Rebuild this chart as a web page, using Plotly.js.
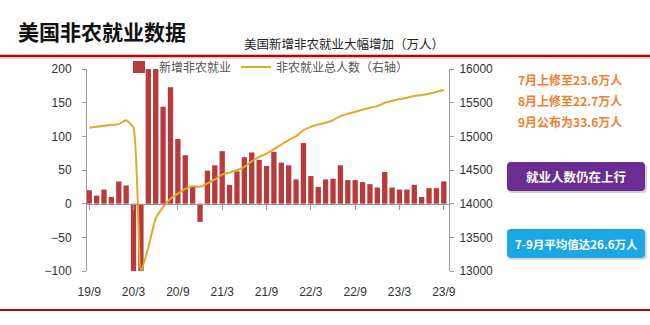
<!DOCTYPE html>
<html><head><meta charset="utf-8">
<script src="https://cdn.plot.ly/plotly-3.0.1.min.js"></script>
<style>html,body{margin:0;padding:0;background:#fff}#chart{width:650px;height:325px}</style>
</head><body><div id="chart"></div>
<script>
const months = ['19/9','19/10','19/11','19/12','20/1','20/2','20/3','20/4','20/5','20/6','20/7','20/8','20/9','20/10','20/11','20/12',
  '21/1','21/2','21/3','21/4','21/5','21/6','21/7','21/8','21/9','21/10','21/11','21/12',
  '22/1','22/2','22/3','22/4','22/5','22/6','22/7','22/8','22/9','22/10','22/11','22/12',
  '23/1','23/2','23/3','23/4','23/5','23/6','23/7','23/8','23/9'];
const newJobs = [20,12,21,10,33,27,-137,-2050,270,480,144,173,96,72,26,-27,
  49,57,78,28,48,69,76,65,56,77,61,57,
  36,90,41,25,36,37,57,35,35,32,29,24,
  47,24,21,21,28,10,23,23,33];
const totalJobs = [15127,15141,15156,15171,15181,15240,15125,13000,13350,13780,13950,14074,14150,14220,14260,14250,
  14300,14360,14430,14462,14496,14546,14630,14695,14744,14809,14878,14943,
  15002,15092,15141,15176,15201,15240,15300,15335,15365,15395,15424,15449,
  15499,15529,15553,15573,15598,15613,15633,15658,15692];
const tickLabels = ['19/9','20/3','20/9','21/3','21/9','22/3','22/9','23/3','23/9'];
const leftTicks = [-100,-50,0,50,100,150,200];
const rightTicks = [13000,13500,14000,14500,15000,15500,16000];
const barName = '新增非农就业';
const lineName = '非农就业总人数（右轴）';
const mainTitle = '美国非农就业数据';
const subTitle = '美国新增非农就业大幅增加（万人）';
const notes = ['7月上修至23.6万人','8月上修至22.7万人','9月公布为33.6万人'];
const box1Text = '就业人数仍在上行';
const box2Text = '7-9月平均值达26.6万人';

const L=87,R=449,T=69,B=271;
const px = x => (x-L)/(R-L);
const py = y => (B-y)/(B-T);
function rrect(x0,y0,x1,y1,r){
  const P=(x,y)=>px(x).toFixed(5)+','+py(y).toFixed(5);
  return 'M'+P(x0+r,y0)+' L'+P(x1-r,y0)+' Q'+P(x1,y0)+' '+P(x1,y0+r)+
    ' L'+P(x1,y1-r)+' Q'+P(x1,y1)+' '+P(x1-r,y1)+
    ' L'+P(x0+r,y1)+' Q'+P(x0,y1)+' '+P(x0,y1-r)+
    ' L'+P(x0,y0+r)+' Q'+P(x0,y0)+' '+P(x0+r,y0)+' Z';
}
const CJK = '"Noto Sans CJK SC", "Noto Sans", sans-serif';
const LAT = '"Liberation Sans", Arial, sans-serif';

const traces = [
  {type:'bar', x:months, y:newJobs, name:barName, marker:{color:'#B73A3D'}, hoverinfo:'skip'},
  {type:'scatter', mode:'lines', x:months, y:totalJobs, name:lineName, xaxis:'x2', yaxis:'y2',
   line:{color:'#E2A82A', width:2, shape:'spline', smoothing:0.5}, hoverinfo:'skip'}
];

const axisGray = '#9a9a9a';
const layout = {
  width:650, height:325, autosize:false,
  margin:{l:L, r:650-R, t:T, b:325-B, pad:0},
  paper_bgcolor:'#ffffff', plot_bgcolor:'rgba(0,0,0,0)',
  bargap:0.28, showlegend:true,
  title:{text:'<b>'+mainTitle+'</b>', font:{family:CJK, size:21, color:'#111'},
    xref:'container', yref:'container', x:18/650, xanchor:'left', y:1-33/325, yanchor:'middle'},
  xaxis:{type:'category', range:[-0.3,48.7], tickvals:tickLabels, ticktext:tickLabels,
    showline:false, ticks:'', showgrid:false, zeroline:false, ticklabelstandoff:12,
    tickfont:{family:LAT, size:12, color:'#333'}},
  xaxis2:{type:'category', overlaying:'x', anchor:'free', position:1/3, range:[-0.3,48.7],
    tickvals:tickLabels, showticklabels:false, showline:true, linecolor:axisGray, linewidth:1,
    ticks:'outside', ticklen:5, tickcolor:axisGray, showgrid:false, zeroline:false},
  yaxis:{range:[-100,200], tickvals:leftTicks, showline:true, linecolor:axisGray, ticks:'outside',
    ticklen:4, tickcolor:axisGray, showgrid:false, zeroline:false, ticklabelstandoff:8,
    tickfont:{family:LAT, size:12, color:'#333'}},
  yaxis2:{overlaying:'y', side:'right', anchor:'x2', range:[13000,16000], tickvals:rightTicks,
    tickformat:'d', showline:true, linecolor:axisGray, ticks:'outside', ticklen:4, tickcolor:axisGray,
    showgrid:false, zeroline:false, ticklabelstandoff:3,
    tickfont:{family:LAT, size:12, color:'#333'}},
  legend:{orientation:'h', x:px(119), y:py(67), xanchor:'left', yanchor:'middle',
    bgcolor:'rgba(0,0,0,0)', font:{family:CJK, size:12, color:'#555'}, itemwidth:30, traceorder:'normal'},
  shapes:[
    {type:'line', xref:'paper', yref:'paper', x0:px(0), x1:px(650), y0:py(56), y1:py(56), line:{color:'#C00000', width:2.5}},
    {type:'line', xref:'paper', yref:'paper', x0:px(0), x1:px(650), y0:py(58.5), y1:py(58.5), line:{color:'#dddddd', width:1}},
    {type:'line', xref:'paper', yref:'paper', x0:px(0), x1:px(650), y0:py(310), y1:py(310), line:{color:'#C00000', width:2}},
    {type:'path', xref:'paper', yref:'paper', path:rrect(508,164,647,193,4), fillcolor:'rgba(0,0,0,0.18)', line:{width:0}},
    {type:'path', xref:'paper', yref:'paper', path:rrect(507,162,645,191,4), fillcolor:'#6B2D91', line:{width:0}},
    {type:'path', xref:'paper', yref:'paper', path:rrect(508,231,647,260,4), fillcolor:'rgba(0,0,0,0.15)', line:{width:0}},
    {type:'path', xref:'paper', yref:'paper', path:rrect(507,229,645,258,4), fillcolor:'#1AA7E4', line:{width:0}}
  ],
  annotations:[
    {xref:'paper', yref:'paper', x:px(242), y:py(44), xanchor:'left', yanchor:'middle', showarrow:false,
     text:subTitle, font:{family:CJK, size:12.5, color:'#222'}},
    {xref:'paper', yref:'paper', x:px(516), y:py(79), xanchor:'left', yanchor:'middle', showarrow:false,
     text:'<b>'+notes[0]+'</b>', font:{family:CJK, size:12, color:'#EE7F33'}},
    {xref:'paper', yref:'paper', x:px(516), y:py(100), xanchor:'left', yanchor:'middle', showarrow:false,
     text:'<b>'+notes[1]+'</b>', font:{family:CJK, size:12, color:'#EE7F33'}},
    {xref:'paper', yref:'paper', x:px(516), y:py(121), xanchor:'left', yanchor:'middle', showarrow:false,
     text:'<b>'+notes[2]+'</b>', font:{family:CJK, size:12, color:'#EE7F33'}},
    {xref:'paper', yref:'paper', x:px(576), y:py(176.5), xanchor:'center', yanchor:'middle', showarrow:false,
     text:'<b>'+box1Text+'</b>', font:{family:CJK, size:12.5, color:'#ffffff'}},
    {xref:'paper', yref:'paper', x:px(576), y:py(243.5), xanchor:'center', yanchor:'middle', showarrow:false,
     text:'<b>'+box2Text+'</b>', font:{family:CJK, size:11.5, color:'#ffffff'}}
  ]
};
Plotly.newPlot('chart', traces, layout, {displayModeBar:false, staticPlot:true});
</script></body></html>
